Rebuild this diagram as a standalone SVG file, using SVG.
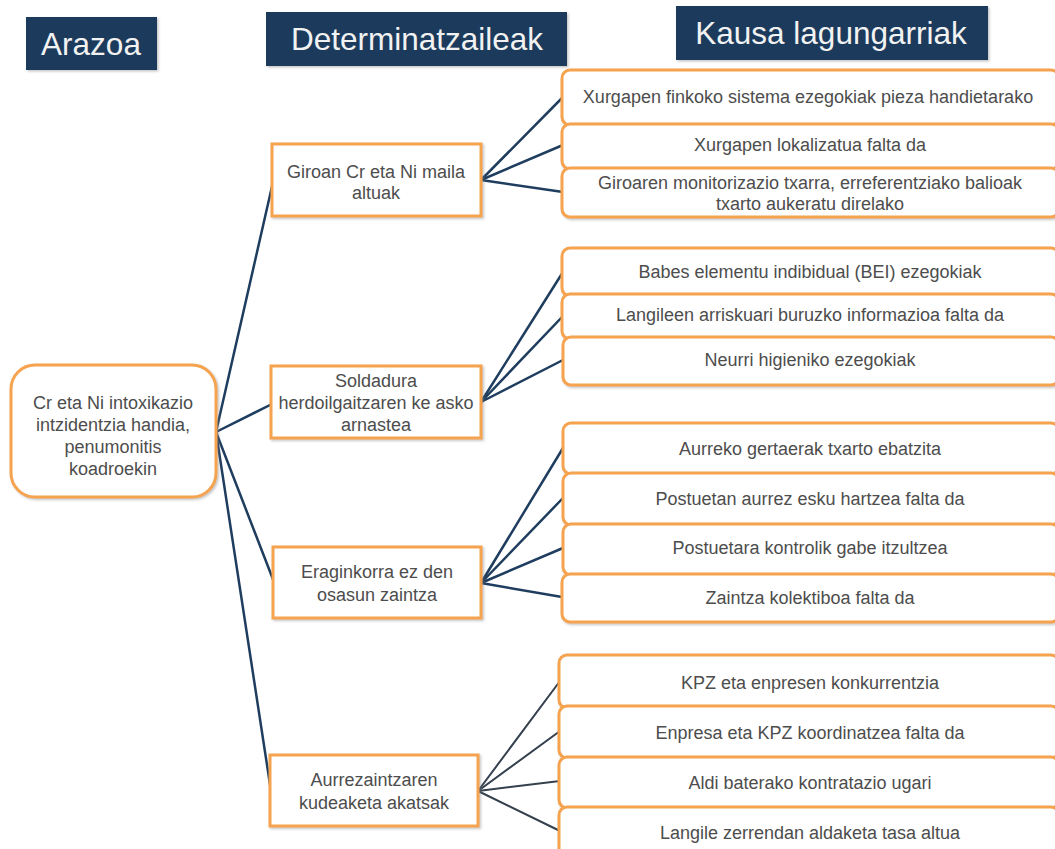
<svg xmlns="http://www.w3.org/2000/svg" width="1055" height="849" viewBox="0 0 1055 849">
  <defs>
    <filter id="shadow" x="-5%" y="-10%" width="115%" height="130%">
      <feDropShadow dx="1.5" dy="1.5" stdDeviation="1.2" flood-color="#7f7f7f" flood-opacity="0.45"/>
    </filter>
    <style>
      .hdr { fill: #1c3a5c; filter: url(#shadow); }
      .hdrtxt { font-family: "Liberation Sans", Arial, sans-serif; font-size: 31.5px; fill: #f2f2f2; text-anchor: middle; }
      .box { fill: #ffffff; stroke: #f5a34f; stroke-width: 3; filter: url(#shadow); }
      .txt { font-family: "Liberation Sans", Arial, sans-serif; font-size: 18px; fill: #4d4d4d; text-anchor: middle; }
      .link { stroke: #1f3d5e; stroke-width: 2.5; fill: none; stroke-linecap: round; }
      .link2 { stroke: #34404d; stroke-width: 2; fill: none; stroke-linecap: round; }
    </style>
  </defs>
  <rect width="1055" height="849" fill="#ffffff"/>

  <!-- column headers -->
  <g id="hdr-arazoa">
    <rect class="hdr" x="26" y="17" width="131" height="53"/>
    <text class="hdrtxt" x="91" y="55">Arazoa</text>
  </g>
  <g id="hdr-determinatzaileak">
    <rect class="hdr" x="266" y="12" width="301" height="54"/>
    <text class="hdrtxt" x="417" y="50">Determinatzaileak</text>
  </g>
  <g id="hdr-kausak">
    <rect class="hdr" x="676" y="6" width="312" height="54"/>
    <text class="hdrtxt" x="831" y="44">Kausa lagungarriak</text>
  </g>

  <!-- connectors -->
  <g id="connectors">
    <line class="link" x1="216" y1="432" x2="273" y2="182"/>
    <line class="link" x1="216" y1="432" x2="272" y2="404"/>
    <line class="link" x1="216" y1="432" x2="274" y2="582"/>
    <line class="link" x1="216" y1="432" x2="271" y2="791"/>

    <line class="link" x1="481" y1="180" x2="563" y2="97"/>
    <line class="link" x1="481" y1="180" x2="563" y2="145"/>
    <line class="link" x1="481" y1="180" x2="563" y2="192"/>

    <line class="link" x1="481" y1="402" x2="563" y2="272"/>
    <line class="link" x1="481" y1="402" x2="563" y2="316"/>
    <line class="link" x1="481" y1="402" x2="563" y2="360"/>

    <line class="link" x1="481" y1="583" x2="563" y2="448"/>
    <line class="link" x1="481" y1="583" x2="563" y2="498"/>
    <line class="link" x1="481" y1="583" x2="563" y2="548"/>
    <line class="link" x1="481" y1="583" x2="562" y2="597"/>

    <line class="link2" x1="478" y1="791" x2="560" y2="681"/>
    <line class="link2" x1="478" y1="791" x2="560" y2="731"/>
    <line class="link2" x1="478" y1="791" x2="560" y2="781"/>
    <line class="link2" x1="478" y1="791" x2="558" y2="830"/>
  </g>

  <!-- problem -->
  <g id="problem">
    <rect class="box" x="11" y="365" width="205" height="132" rx="24"/>
    <text class="txt" x="113" y="409">Cr eta Ni intoxikazio</text>
    <text class="txt" x="113" y="431">intzidentzia handia,</text>
    <text class="txt" x="113" y="453">penumonitis</text>
    <text class="txt" x="113" y="475">koadroekin</text>
  </g>

  <!-- determinants -->
  <g id="det-giroan">
    <rect class="box" x="272" y="144" width="209" height="72"/>
    <text class="txt" x="376" y="178">Giroan Cr eta Ni maila</text>
    <text class="txt" x="376" y="199">altuak</text>
  </g>
  <g id="det-soldadura">
    <rect class="box" x="271" y="366" width="210" height="72"/>
    <text class="txt" x="376" y="387">Soldadura</text>
    <text class="txt" x="376" y="409">herdoilgaitzaren ke asko</text>
    <text class="txt" x="376" y="431">arnastea</text>
  </g>
  <g id="det-eraginkorra">
    <rect class="box" x="273" y="547" width="208" height="71"/>
    <text class="txt" x="377" y="578">Eraginkorra ez den</text>
    <text class="txt" x="377" y="601">osasun zaintza</text>
  </g>
  <g id="det-aurrezaintza">
    <rect class="box" x="270" y="755" width="208" height="71"/>
    <text class="txt" x="374" y="786">Aurrezaintzaren</text>
    <text class="txt" x="374" y="809">kudeaketa akatsak</text>
  </g>

  <!-- contributing causes: group 1 -->
  <g id="cause-1-1">
    <rect class="box" x="562" y="70" width="497" height="55" rx="8"/>
    <text class="txt" x="808" y="103">Xurgapen finkoko sistema ezegokiak pieza handietarako</text>
  </g>
  <g id="cause-1-2">
    <rect class="box" x="562" y="124" width="497" height="45" rx="8"/>
    <text class="txt" x="810" y="151">Xurgapen lokalizatua falta da</text>
  </g>
  <g id="cause-1-3">
    <rect class="box" x="562" y="168" width="497" height="49" rx="8"/>
    <text class="txt" x="810" y="189">Giroaren monitorizazio txarra, erreferentziako balioak</text>
    <text class="txt" x="810" y="210">txarto aukeratu direlako</text>
  </g>

  <!-- group 2 -->
  <g id="cause-2-1">
    <rect class="box" x="562" y="248" width="497" height="48" rx="8"/>
    <text class="txt" x="810" y="278">Babes elementu indibidual (BEI) ezegokiak</text>
  </g>
  <g id="cause-2-2">
    <rect class="box" x="562" y="294" width="497" height="45" rx="8"/>
    <text class="txt" x="810" y="321">Langileen arriskuari buruzko informazioa falta da</text>
  </g>
  <g id="cause-2-3">
    <rect class="box" x="563" y="337" width="496" height="48" rx="8"/>
    <text class="txt" x="810" y="366">Neurri higieniko ezegokiak</text>
  </g>

  <!-- group 3 -->
  <g id="cause-3-1">
    <rect class="box" x="563" y="423" width="496" height="51" rx="8"/>
    <text class="txt" x="810" y="455">Aurreko gertaerak txarto ebatzita</text>
  </g>
  <g id="cause-3-2">
    <rect class="box" x="563" y="473" width="496" height="52" rx="8"/>
    <text class="txt" x="810" y="505">Postuetan aurrez esku hartzea falta da</text>
  </g>
  <g id="cause-3-3">
    <rect class="box" x="563" y="524" width="496" height="51" rx="8"/>
    <text class="txt" x="810" y="554">Postuetara kontrolik gabe itzultzea</text>
  </g>
  <g id="cause-3-4">
    <rect class="box" x="562" y="574" width="497" height="48" rx="8"/>
    <text class="txt" x="810" y="604">Zaintza kolektiboa falta da</text>
  </g>

  <!-- group 4 -->
  <g id="cause-4-1">
    <rect class="box" x="559" y="655" width="500" height="53" rx="8"/>
    <text class="txt" x="810" y="689">KPZ eta enpresen konkurrentzia</text>
  </g>
  <g id="cause-4-2">
    <rect class="box" x="559" y="706" width="500" height="52" rx="8"/>
    <text class="txt" x="810" y="739">Enpresa eta KPZ koordinatzea falta da</text>
  </g>
  <g id="cause-4-3">
    <rect class="box" x="559" y="757" width="500" height="51" rx="8"/>
    <text class="txt" x="810" y="789">Aldi baterako kontratazio ugari</text>
  </g>
  <g id="cause-4-4">
    <rect class="box" x="559" y="807" width="500" height="60" rx="8"/>
    <text class="txt" x="810" y="839">Langile zerrendan aldaketa tasa altua</text>
  </g>
</svg>
